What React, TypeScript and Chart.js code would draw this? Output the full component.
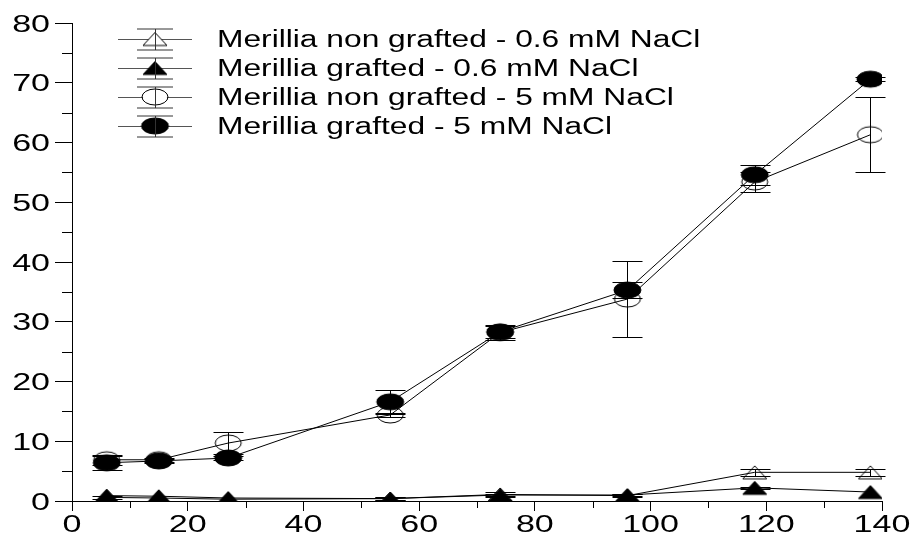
import { useEffect, useRef } from 'react';
import { Chart, registerables } from 'chart.js';

Chart.register(...registerables);

const xValues = [6, 15, 27, 55, 74, 96, 118, 138];

const seriesLabels = [
  'Merillia non grafted - 0.6 mM NaCl',
  'Merillia grafted - 0.6 mM NaCl',
  'Merillia non grafted - 5 mM NaCl',
  'Merillia grafted - 5 mM NaCl',
];

const nonGrafted06 = [0.6, 0.5, 0.3, 0.4, 1.1, 0.9, 4.8, 4.8];
const nonGrafted06Err = [0.2, 0, 0, 0.3, 0.4, 0.3, 0.6, 0.6];
const grafted06 = [0.9, 0.8, 0.5, 0.4, 1.0, 1.0, 2.2, 1.5];
const grafted06Err = [0, 0, 0, 0.2, 0.2, 0.2, 0.2, 0];
const nonGrafted5 = [6.9, 6.9, 9.7, 14.4, 28.2, 33.8, 53.4, 61.3];
const nonGrafted5Err = [0.8, 0.3, 1.9, 0.3, 1.2, 6.4, 1.7, 6.3];
const grafted5 = [6.4, 6.7, 7.2, 16.6, 28.3, 35.3, 54.6, 70.6];
const grafted5Err = [1.2, 0.4, 0.3, 2.0, 1.0, 1.3, 1.7, 0.3];

const xTickValues = [0, 20, 40, 60, 80, 100, 120, 140];
const yTickValues = [0, 10, 20, 30, 40, 50, 60, 70, 80];

const FONT = '"Liberation Sans", Arial, sans-serif';
const LEGEND_STRETCH = 1.38;
const TICK_STRETCH = 1.48;

function makeMarker(kind: string, filled: boolean, w: number, h: number) {
  const c = document.createElement('canvas');
  c.width = w + 4;
  c.height = h + 4;
  const ctx = c.getContext('2d') as CanvasRenderingContext2D;
  ctx.translate(c.width / 2, c.height / 2);
  ctx.beginPath();
  if (kind === 'circle') {
    ctx.ellipse(0, 0, w / 2, h / 2, 0, 0, Math.PI * 2);
  } else {
    ctx.moveTo(0, -h / 2);
    ctx.lineTo(w / 2, h / 2);
    ctx.lineTo(-w / 2, h / 2);
    ctx.closePath();
  }
  if (filled) {
    ctx.fillStyle = '#000';
    ctx.fill();
  }
  ctx.strokeStyle = '#000';
  ctx.lineWidth = 1;
  ctx.stroke();
  return c;
}

export default function App() {
  const ref = useRef<HTMLCanvasElement | null>(null);

  useEffect(() => {
    document.body.style.margin = '0';
    const canvas = ref.current;
    if (!canvas) return;

    const markers = [
      makeMarker('triangle', false, 24, 13),
      makeMarker('triangle', true, 24, 13),
      makeMarker('circle', false, 26, 16),
      makeMarker('circle', true, 27, 16),
    ];
    const values = [nonGrafted06, grafted06, nonGrafted5, grafted5];
    const errors = [nonGrafted06Err, grafted06Err, nonGrafted5Err, grafted5Err];
    const orders = [3, 1, 2, 0];

    const datasets = values.map((vals, i) => ({
      label: seriesLabels[i],
      data: vals.map((v, j) => ({ x: xValues[j], y: v })),
      borderColor: '#000',
      borderWidth: 1,
      pointStyle: markers[i] as any,
      pointRadius: 10,
      pointHoverRadius: 10,
      showLine: true,
      fill: false,
      tension: 0,
      order: orders[i],
    }));

    const drawText = (ctx: CanvasRenderingContext2D, text: string, x: number, y: number, align: CanvasTextAlign, stretch: number) => {
      ctx.save();
      ctx.translate(x, y);
      ctx.scale(stretch, 1);
      ctx.textAlign = align;
      ctx.textBaseline = 'alphabetic';
      ctx.fillText(text, 0, 0);
      ctx.restore();
    };

    const extras = {
      id: 'extras',
      afterDatasetsDraw(chart: any) {
        const ctx = chart.ctx as CanvasRenderingContext2D;
        const xs = chart.scales.x;
        const ys = chart.scales.y;
        ctx.save();
        ctx.strokeStyle = '#000';
        ctx.lineWidth = 1;
        errors.forEach((errs, di) => {
          errs.forEach((e, j) => {
            if (!e) return;
            const v = values[di][j];
            const px = Math.round(xs.getPixelForValue(xValues[j])) + 0.5;
            const top = Math.round(ys.getPixelForValue(v + e)) + 0.5;
            const bot = Math.round(ys.getPixelForValue(v - e)) + 0.5;
            ctx.beginPath();
            ctx.moveTo(px, top);
            ctx.lineTo(px, bot);
            ctx.moveTo(px - 15, top);
            ctx.lineTo(px + 15, top);
            ctx.moveTo(px - 15, bot);
            ctx.lineTo(px + 15, bot);
            ctx.stroke();
          });
        });
        ctx.restore();
      },
      afterDraw(chart: any) {
        const ctx = chart.ctx as CanvasRenderingContext2D;
        const xs = chart.scales.x;
        const ys = chart.scales.y;
        const area = chart.chartArea;
        ctx.save();
        ctx.strokeStyle = '#000';
        ctx.lineWidth = 1;
        // minor ticks
        ctx.beginPath();
        for (let i = 0; i < yTickValues.length - 1; i++) {
          const v = (yTickValues[i] + yTickValues[i + 1]) / 2;
          const py = Math.round(ys.getPixelForValue(v)) + 0.5;
          ctx.moveTo(area.left - 10, py);
          ctx.lineTo(area.left, py);
        }
        for (let i = 0; i < xTickValues.length - 1; i++) {
          const v = (xTickValues[i] + xTickValues[i + 1]) / 2;
          const px = Math.round(xs.getPixelForValue(v)) + 0.5;
          ctx.moveTo(px, area.bottom);
          ctx.lineTo(px, area.bottom + 7);
        }
        ctx.stroke();

        // tick labels
        ctx.fillStyle = '#000';
        ctx.font = `23px ${FONT}`;
        yTickValues.forEach((v) => {
          const py = ys.getPixelForValue(v);
          drawText(ctx, String(v), area.left - 22, py + 8.5, 'right', TICK_STRETCH);
        });
        xTickValues.forEach((v) => {
          const px = xs.getPixelForValue(v);
          drawText(ctx, String(v), px, area.bottom + 31, 'center', TICK_STRETCH);
        });

        // legend
        const legendX = 155;
        for (let i = 0; i < seriesLabels.length; i++) {
          const cy = 39 + i * 29;
          const ly = Math.round(cy) + 0.5;
          ctx.strokeStyle = '#555';
          ctx.beginPath();
          ctx.moveTo(118, ly);
          ctx.lineTo(192, ly);
          ctx.stroke();
          const m = markers[i];
          if (i === 0 || i === 2) {
            ctx.fillStyle = '#fff';
            ctx.beginPath();
            if (i === 2) ctx.ellipse(legendX, cy, 12, 7.5, 0, 0, Math.PI * 2);
            else {
              ctx.moveTo(legendX, cy - 6.5);
              ctx.lineTo(legendX + 12, cy + 6.5);
              ctx.lineTo(legendX - 12, cy + 6.5);
              ctx.closePath();
            }
            ctx.fill();
          }
          ctx.drawImage(m, legendX - m.width / 2, cy - m.height / 2);
          ctx.strokeStyle = '#333';
          ctx.beginPath();
          ctx.moveTo(legendX + 0.5, ly - 10.5);
          ctx.lineTo(legendX + 0.5, ly + 10.5);
          ctx.moveTo(137, ly - 10.5);
          ctx.lineTo(173, ly - 10.5);
          ctx.moveTo(137, ly + 10.5);
          ctx.lineTo(173, ly + 10.5);
          ctx.stroke();
          ctx.fillStyle = '#000';
          ctx.font = `23px ${FONT}`;
          drawText(ctx, seriesLabels[i], 217, cy + 7.5, 'left', LEGEND_STRETCH);
        }
        ctx.restore();
      },
    };

    const chart = new Chart(canvas, {
      type: 'line',
      data: { datasets: datasets as any },
      options: {
        animation: false,
        responsive: false,
        devicePixelRatio: 1,
        layout: { padding: { top: 23, right: 32, left: 0, bottom: 0 } },
        plugins: { legend: { display: false }, tooltip: { enabled: false } },
        events: [],
        scales: {
          x: {
            type: 'linear',
            min: 0,
            max: 140,
            ticks: { display: false, stepSize: 20 },
            grid: { drawOnChartArea: false, drawTicks: true, tickLength: 10, color: '#000', lineWidth: 1 },
            border: { display: true, color: '#000', width: 1 },
            afterFit: (s: any) => { s.height = 35; },
          },
          y: {
            type: 'linear',
            min: 0,
            max: 80,
            ticks: { display: false, stepSize: 10 },
            grid: { drawOnChartArea: false, drawTicks: true, tickLength: 17, color: '#000', lineWidth: 1 },
            border: { display: true, color: '#000', width: 1 },
            afterFit: (s: any) => { s.width = 72; },
          },
        },
      } as any,
      plugins: [extras as any],
    });

    return () => chart.destroy();
  }, []);

  return (
    <div style={{ width: 914, height: 536 }}>
      <canvas ref={ref} width={914} height={536} style={{ display: 'block' }} />
    </div>
  );
}
